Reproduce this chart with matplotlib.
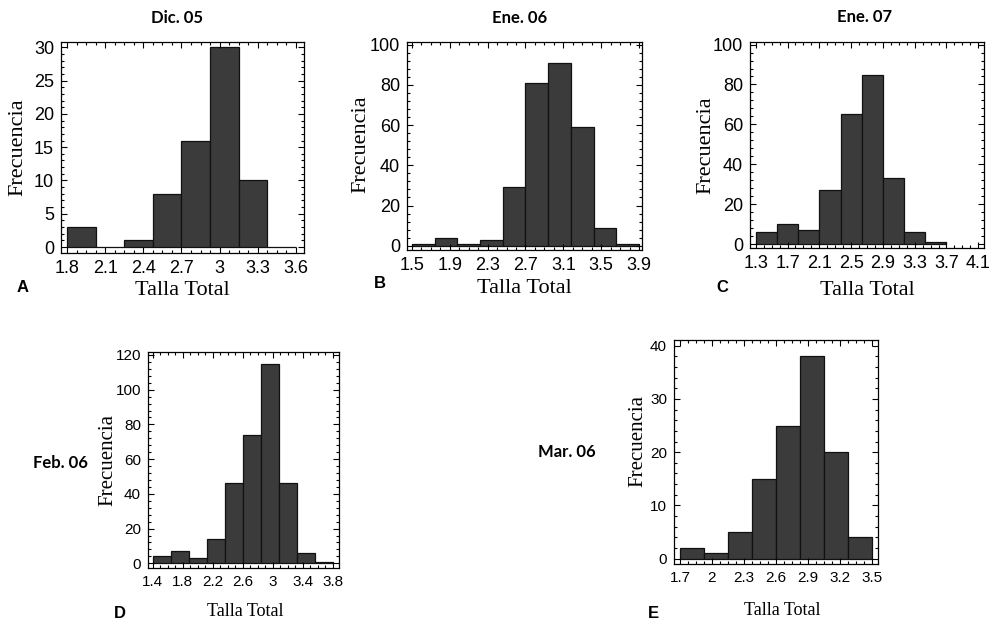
import numpy as np
import matplotlib
matplotlib.use("Agg")
import matplotlib.pyplot as plt
from matplotlib.ticker import FixedLocator, AutoMinorLocator

# bin edges (Talla Total) and counts (Frecuencia)
edges_a = [1.8, 2.025, 2.25, 2.475, 2.7, 2.925, 3.15, 3.375, 3.6]
counts_a = [3, 0, 1, 8, 16, 30, 10, 0]
edges_b = [1.5, 1.74, 1.98, 2.22, 2.46, 2.70, 2.94, 3.18, 3.42, 3.66, 3.90]
counts_b = [1, 4, 1, 3, 29, 81, 91, 59, 9, 1]
edges_c = [1.3, 1.567, 1.833, 2.1, 2.367, 2.633, 2.9, 3.167, 3.433, 3.7]
counts_c = [6, 10, 7, 27, 65, 85, 33, 6, 1]
edges_d = [1.4, 1.64, 1.88, 2.12, 2.36, 2.6, 2.84, 3.08, 3.32, 3.56, 3.8]
counts_d = [4, 7, 3, 14, 46, 74, 115, 46, 6, 1]
edges_e = [1.7, 1.925, 2.15, 2.375, 2.6, 2.825, 3.05, 3.275, 3.5]
counts_e = [2, 1, 5, 15, 25, 38, 20, 4]

xticks_a = [1.8, 2.1, 2.4, 2.7, 3.0, 3.3, 3.6]
xticks_b = [1.5, 1.9, 2.3, 2.7, 3.1, 3.5, 3.9]
xticks_c = [1.3, 1.7, 2.1, 2.5, 2.9, 3.3, 3.7, 4.1]
xticks_d = [1.4, 1.8, 2.2, 2.6, 3.0, 3.4, 3.8]
xticks_e = [1.7, 2.0, 2.3, 2.6, 2.9, 3.2, 3.5]
yticks_a = [0, 5, 10, 15, 20, 25, 30]
yticks_b = [0, 20, 40, 60, 80, 100]
yticks_c = [0, 20, 40, 60, 80, 100]
yticks_d = [0, 20, 40, 60, 80, 100, 120]
yticks_e = [0, 10, 20, 30, 40]

titles = ["Dic. 05", "Ene. 06", "Ene. 07", "Feb. 06", "Mar. 06"]
letters = ["A", "B", "C", "D", "E"]

W, H = 992, 628
fig = plt.figure(figsize=(9.92, 6.28), dpi=100)

SANS = "Liberation Sans"
SERIF = "Liberation Serif"
BAR = "#3b3b3b"


def box(l, r, t, b):
    return [l / W, 1 - b / H, (r - l) / W, (b - t) / H]


def panel(rect, edges, counts, xticks, yticks, xlim, ylim, tsize, lsize_y, lsize_x,
          ycoords, xcoords):
    ax = fig.add_axes(box(*rect))
    edges = np.array(edges)
    ax.bar(edges[:-1], counts, width=np.diff(edges), align="edge",
           color=BAR, edgecolor="#111111", linewidth=0.9)
    ax.set_xlim(*xlim)
    ax.set_ylim(*ylim)
    ax.xaxis.set_major_locator(FixedLocator(xticks))
    ax.yaxis.set_major_locator(FixedLocator(yticks))
    ax.set_xticklabels(["%g" % v for v in xticks], fontsize=tsize, family=SANS)
    ax.set_yticklabels(["%g" % v for v in yticks], fontsize=tsize, family=SANS)
    ax.xaxis.set_minor_locator(AutoMinorLocator(4))
    ax.yaxis.set_minor_locator(AutoMinorLocator(5))
    ax.tick_params(which="both", direction="in", top=True, right=True, width=0.8)
    ax.tick_params(which="major", length=4, pad=5)
    ax.tick_params(which="minor", length=2)
    for s in ax.spines.values():
        s.set_linewidth(0.9)
    ax.set_ylabel("Frecuencia", family=SERIF, fontsize=lsize_y)
    ax.set_xlabel("Talla Total", family=SERIF, fontsize=lsize_x, va="top")
    ax.yaxis.set_label_coords(*ycoords)
    ax.xaxis.set_label_coords(*xcoords)
    return ax


panel((61, 304, 42, 253), edges_a, counts_a, xticks_a, yticks_a,
      (1.753, 3.663), (-0.9, 30.8), 13, 16, 16, (-0.14, 0.5), (0.5, -0.133))
panel((407, 642, 42, 250), edges_b, counts_b, xticks_b, yticks_b,
      (1.447, 3.932), (-2.1, 101.3), 13, 16, 16, (-0.157, 0.51), (0.5, -0.14))
panel((750, 984, 42, 248), edges_c, counts_c, xticks_c, yticks_c,
      (1.228, 4.172), (-2.0, 101.3), 13, 16, 16, (-0.15, 0.5), (0.5, -0.16))
panel((148, 339, 352, 568), edges_d, counts_d, xticks_d, yticks_d,
      (1.337, 3.884), (-2.7, 121.7), 11, 15, 13, (-0.16, 0.5), (0.51, -0.16))
panel((674, 878, 340, 564), edges_e, counts_e, xticks_e, yticks_e,
      (1.644, 3.559), (-1.0, 41.07), 11, 15, 13, (-0.13, 0.55), (0.53, -0.17))

# titles and panel letters
title_pos = [(177, 18, "center"), (520, 18, "center"), (865, 17, "center"),
             (33, 463, "left"), (538, 452, "left")]
for (x, y, ha), t in zip(title_pos, titles):
    fig.text(x / W, 1 - y / H, t, ha=ha, va="center", fontsize=12,
             fontweight="bold", family="Lato")

letter_pos = [(23, 287), (380, 284), (722, 288), (120, 613), (653, 613)]
for (x, y), t in zip(letter_pos, letters):
    fig.text(x / W, 1 - y / H, t, ha="center", va="center", fontsize=12,
             fontweight="bold", family=SANS)

fig.savefig("out.png", dpi=100)
